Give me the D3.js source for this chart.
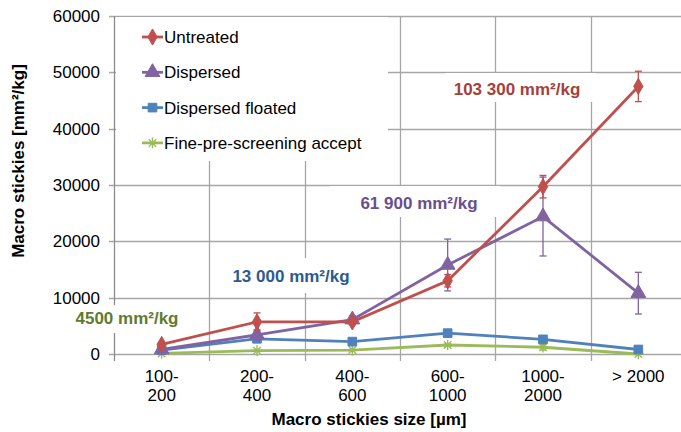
<!DOCTYPE html>
<html>
<head>
<meta charset="utf-8">
<script src="https://cdn.jsdelivr.net/npm/d3@7"></script>
<style>
  body { margin: 0; background: #ffffff; }
  text { font-family: "Liberation Sans", Arial, sans-serif; }
</style>
</head>
<body>
<div id="chart"></div>
<script>
const categories = ['100-\n200', '200-\n400', '400-\n600', '600-\n1000', '1000-\n2000', '> 2000'];
const yTicks = [0, 10000, 20000, 30000, 40000, 50000, 60000];

const untreated = [1700, 5700, 5700, 13000, 29700, 47500];
const untreatedErr = [300, 1600, 500, 1100, 2000, 2700];
const dispersed = [800, 3400, 6100, 15800, 24400, 10800];
const dispersedErr = [200, 900, 700, 4600, 7000, 3700];
const floated = [700, 2700, 2200, 3700, 2600, 800];
const floatedErr = [100, 300, 200, 300, 300, 200];
const fine = [100, 600, 700, 1600, 1200, 0];
const fineErr = [100, 100, 100, 200, 500, 100];

const seriesNames = ['Untreated', 'Dispersed', 'Dispersed floated', 'Fine-pre-screening accept'];
const seriesColours = ['#C0504D', '#8064A2', '#4F81BD', '#9BBB59'];
const seriesMarkers = ['diamond', 'triangle', 'square', 'asterisk'];

const totals = ['103 300', '61 900', '13 000', '4500'];
const totalColours = ['#A53F3C', '#67508C', '#2C5B8F', '#5F7B2D'];

const series = [
  { values: untreated, err: untreatedErr },
  { values: dispersed, err: dispersedErr },
  { values: floated, err: floatedErr },
  { values: fine, err: fineErr }
];

const width = 681;
const height = 432;
const margin = { left: 114, top: 16, right: -5, bottom: 78 };

const svg = d3.select('#chart')
  .append('svg')
  .attr('width', width)
  .attr('height', height);

const x = d3.scaleBand()
  .domain(categories)
  .range([margin.left, width - margin.right])
  .padding(0);

const y = d3.scaleLinear()
  .domain([0, 60000])
  .range([height - margin.bottom, margin.top]);

const gridColour = '#A6A6A6';

// horizontal grid
svg.append('g')
  .selectAll('line')
  .data(yTicks)
  .enter()
  .append('line')
  .attr('x1', margin.left - 5)
  .attr('x2', width - margin.right)
  .attr('y1', d => Math.round(y(d)) + 0.5)
  .attr('y2', d => Math.round(y(d)) + 0.5)
  .style('stroke', gridColour)
  .style('stroke-width', 1.3);

// vertical grid at category boundaries
const bounds = categories.map(c => x(c)).concat([x(categories[categories.length - 1]) + x.bandwidth()]);
svg.append('g')
  .selectAll('line')
  .data(bounds)
  .enter()
  .append('line')
  .attr('x1', d => Math.round(d) + 0.5)
  .attr('x2', d => Math.round(d) + 0.5)
  .attr('y1', y(60000))
  .attr('y2', y(0) + 7)
  .style('stroke', (d, i) => i === 0 ? '#8C8C8C' : gridColour)
  .style('stroke-width', 1.3);

// white boxes that hide grid (legend and value labels)
const boxes = [
  [116, 17, 272, 144],
  [446, 73, 150, 29],
  [330, 186, 170, 31],
  [230, 258, 122, 35],
  [68, 305, 118, 28]
];
svg.append('g')
  .selectAll('rect')
  .data(boxes)
  .enter()
  .append('rect')
  .attr('x', d => d[0])
  .attr('y', d => d[1])
  .attr('width', d => d[2])
  .attr('height', d => d[3])
  .style('fill', '#ffffff');

// y tick labels
svg.append('g')
  .selectAll('text')
  .data(yTicks)
  .enter()
  .append('text')
  .attr('x', margin.left - 14)
  .attr('y', d => y(d))
  .attr('dy', '0.36em')
  .attr('text-anchor', 'end')
  .style('font-size', '17px')
  .style('fill', '#000')
  .text(d => d);

// x tick labels, two lines
const xLabels = svg.append('g')
  .selectAll('text')
  .data(categories)
  .enter()
  .append('text')
  .attr('text-anchor', 'middle')
  .style('font-size', '17px')
  .style('fill', '#000');

xLabels.selectAll('tspan')
  .data(d => d.split('\n').map(t => ({ t: t, c: d })))
  .enter()
  .append('tspan')
  .attr('x', d => x(d.c) + x.bandwidth() / 2)
  .attr('y', (d, i) => 382 + i * 19)
  .text(d => d.t);

// axis titles
svg.append('text')
  .attr('x', 369)
  .attr('y', 425)
  .attr('text-anchor', 'middle')
  .style('font-size', '17px')
  .style('font-weight', 'bold')
  .text('Macro stickies size [µm]');

svg.append('text')
  .attr('transform', 'translate(24,161) rotate(-90)')
  .attr('text-anchor', 'middle')
  .style('font-size', '17px')
  .style('font-weight', 'bold')
  .text('Macro stickies [mm²/kg]');

function markerPath(type, size) {
  if (type === 'diamond') return d3.symbol().type(d3.symbolDiamond).size(size)();
  if (type === 'triangle') return d3.symbol().type(d3.symbolTriangle).size(size)();
  if (type === 'square') return d3.symbol().type(d3.symbolSquare).size(size)();
  const r = Math.sqrt(size) / 2 + 1;
  return `M${-r},0L${r},0M0,${-r}L0,${r}M${-r * 0.7},${-r * 0.7}L${r * 0.7},${r * 0.7}M${-r * 0.7},${r * 0.7}L${r * 0.7},${-r * 0.7}`;
}

const cx = (i) => x(categories[i]) + x.bandwidth() / 2;

const line = d3.line()
  .x((d, i) => cx(i))
  .y(d => y(d));

// draw series back to front
for (let s = series.length - 1; s >= 0; s--) {
  const colour = seriesColours[s];
  const g = svg.append('g');

  g.append('path')
    .datum(series[s].values)
    .attr('d', line)
    .style('fill', 'none')
    .style('stroke', colour)
    .style('stroke-width', 2.8);

  // error bars
  const eb = g.selectAll('.err')
    .data(series[s].values)
    .enter()
    .append('g');
  eb.append('line')
    .attr('x1', (d, i) => cx(i))
    .attr('x2', (d, i) => cx(i))
    .attr('y1', (d, i) => y(d + series[s].err[i]))
    .attr('y2', (d, i) => y(Math.max(0, d - series[s].err[i])))
    .style('stroke', colour)
    .style('stroke-width', 1.3);
  [1, -1].forEach(sign => {
    eb.append('line')
      .attr('x1', (d, i) => cx(i) - 3.5)
      .attr('x2', (d, i) => cx(i) + 3.5)
      .attr('y1', (d, i) => y(Math.max(0, d + sign * series[s].err[i])))
      .attr('y2', (d, i) => y(Math.max(0, d + sign * series[s].err[i])))
      .style('stroke', colour)
      .style('stroke-width', 1.3);
  });

  g.selectAll('.mk')
    .data(series[s].values)
    .enter()
    .append('path')
    .attr('transform', (d, i) => `translate(${cx(i)},${y(d)})`)
    .attr('d', markerPath(seriesMarkers[s], seriesMarkers[s] === 'triangle' ? 95 : 75))
    .style('fill', seriesMarkers[s] === 'asterisk' ? 'none' : colour)
    .style('stroke', colour)
    .style('stroke-width', seriesMarkers[s] === 'asterisk' ? 1.4 : 1);
}

// legend
const legend = svg.append('g');
seriesNames.forEach((name, i) => {
  const ly = 37 + i * 35.3;
  legend.append('line')
    .attr('x1', 142).attr('x2', 163)
    .attr('y1', ly).attr('y2', ly)
    .style('stroke', seriesColours[i])
    .style('stroke-width', 2.8);
  legend.append('path')
    .attr('transform', `translate(152.5,${ly})`)
    .attr('d', markerPath(seriesMarkers[i], seriesMarkers[i] === 'triangle' ? 95 : 75))
    .style('fill', seriesMarkers[i] === 'asterisk' ? 'none' : seriesColours[i])
    .style('stroke', seriesColours[i])
    .style('stroke-width', seriesMarkers[i] === 'asterisk' ? 1.4 : 1);
  legend.append('text')
    .attr('x', 164)
    .attr('y', ly)
    .attr('dy', '0.36em')
    .style('font-size', '17px')
    .text(name);
});

// total labels
const totalPos = [[517, 89], [419, 203], [291, 276], [127, 318]];
totals.forEach((t, i) => {
  const txt = svg.append('text')
    .attr('x', totalPos[i][0])
    .attr('y', totalPos[i][1])
    .attr('dy', '0.36em')
    .attr('text-anchor', 'middle')
    .style('font-size', '17px')
    .style('font-weight', 'bold')
    .style('fill', totalColours[i]);
  txt.append('tspan').text(t + ' mm');
  txt.append('tspan').text('²');
  txt.append('tspan').text('/kg');
});
</script>
</body>
</html>
